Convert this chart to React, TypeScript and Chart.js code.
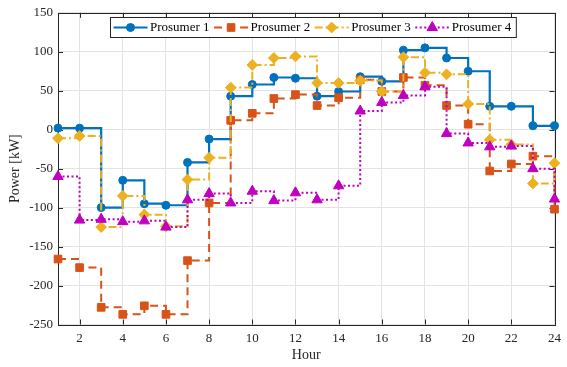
import React, { useEffect, useRef } from 'react';
import { Chart, registerables } from 'chart.js';

Chart.register(...registerables);

const hours = [1, 2, 3, 4, 5, 6, 7, 8, 9, 10, 11, 12, 13, 14, 15, 16, 17, 18, 19, 20, 21, 22, 23, 24];
const prosumer1 = [2, 2, -100, -65, -95, -97, -42, -12, 43, 58, 67, 66, 43, 49, 68, 62, 102, 105, 92, 75, 30, 30, 5, 5];
const prosumer2 = [-166, -177, -228, -237, -226, -237, -168, -94, 12, 21, 40, 45, 31, 41, 64, 49, 67, 57, 31, 7, -53, -44, -34, -102];
const prosumer3 = [-11, -8, -125, -85, -109, -124, -64, -36, 54, 83, 92, 94, 60, 60, 63, 49, 93, 73, 71, 33, -13, -19, -69, -43];
const prosumer4 = [-60, -116, -115, -118, -117, -125, -90, -82, -94, -79, -91, -81, -90, -72, 24, 35, 44, 55, -5, -17, -22, -21, -50, -89];
const seriesNames = ['Prosumer 1', 'Prosumer 2', 'Prosumer 3', 'Prosumer 4'];
const xTicks = [2, 4, 6, 8, 10, 12, 14, 16, 18, 20, 22, 24];
const yTicks = [-250, -200, -150, -100, -50, 0, 50, 100, 150];

const FONT = '"Liberation Serif", "Times New Roman", serif';
const AXIS_COLOR = '#262626';

const styles = [
  { color: '#0072BD', dash: [] as number[], marker: 'circle', radius: 4, width: 2.2 },
  { color: '#D95319', dash: [8, 5], marker: 'rect', radius: 5.4, width: 2 },
  { color: '#EDB120', dash: [8, 3, 2, 3], marker: 'rectRot', radius: 5.4, width: 2 },
  { color: '#C000C0', dash: [2, 2.5], marker: 'triangle', radius: 6, width: 2 },
];

function drawMarker(ctx: CanvasRenderingContext2D, type: string, x: number, y: number, r: number, color: string) {
  ctx.save();
  ctx.setLineDash([]);
  ctx.fillStyle = color;
  ctx.strokeStyle = color;
  ctx.lineWidth = 1;
  ctx.beginPath();
  if (type === 'circle') {
    ctx.arc(x, y, r, 0, Math.PI * 2);
  } else if (type === 'rect') {
    const s = r * Math.SQRT1_2;
    ctx.rect(x - s, y - s, 2 * s, 2 * s);
  } else if (type === 'rectRot') {
    ctx.moveTo(x, y - r);
    ctx.lineTo(x + r, y);
    ctx.lineTo(x, y + r);
    ctx.lineTo(x - r, y);
    ctx.closePath();
  } else {
    ctx.moveTo(x, y - r);
    ctx.lineTo(x + r * Math.sin((2 * Math.PI) / 3), y - r * Math.cos((2 * Math.PI) / 3));
    ctx.lineTo(x + r * Math.sin((4 * Math.PI) / 3), y - r * Math.cos((4 * Math.PI) / 3));
    ctx.closePath();
  }
  ctx.fill();
  ctx.stroke();
  ctx.restore();
}

const framePlugin = {
  id: 'frame',
  beforeDatasetsDraw(chart: any) {
    const { ctx, chartArea } = chart;
    const { left, right, top, bottom } = chartArea;
    const xs = chart.scales.x;
    const ys = chart.scales.y;
    ctx.save();
    ctx.strokeStyle = AXIS_COLOR;
    ctx.lineWidth = 1;
    ctx.setLineDash([]);
    ctx.beginPath();
    const tl = 5;
    xTicks.forEach((v) => {
      const px = Math.round(xs.getPixelForValue(v)) + 0.5;
      ctx.moveTo(px, bottom);
      ctx.lineTo(px, bottom - tl);
      ctx.moveTo(px, top);
      ctx.lineTo(px, top + tl);
    });
    yTicks.forEach((v) => {
      const py = Math.round(ys.getPixelForValue(v)) + 0.5;
      ctx.moveTo(left, py);
      ctx.lineTo(left + tl, py);
      ctx.moveTo(right, py);
      ctx.lineTo(right - tl, py);
    });
    ctx.stroke();
    ctx.strokeRect(Math.round(left) + 0.5, Math.round(top) + 0.5, Math.round(right - left), Math.round(bottom - top));
    ctx.restore();
  },
};

const legendPlugin = {
  id: 'customLegend',
  afterDraw(chart: any) {
    const { ctx } = chart;
    ctx.save();
    ctx.font = '13px ' + FONT;
    const lineLen = 34;
    const gapText = 2.5;
    const gapItem = 4.5;
    const padL = 3;
    const padR = 5;
    const widths = seriesNames.map((n) => ctx.measureText(n).width);
    let total = padL + padR;
    widths.forEach((w, i) => {
      total += lineLen + gapText + w + (i < widths.length - 1 ? gapItem : 0);
    });
    const boxLeft = 110.5;
    const boxTop = 17.5;
    const boxH = 20;
    const cy = boxTop + boxH / 2;
    ctx.fillStyle = '#ffffff';
    ctx.fillRect(boxLeft, boxTop, total, boxH);
    ctx.strokeStyle = AXIS_COLOR;
    ctx.lineWidth = 1;
    ctx.strokeRect(boxLeft, boxTop, total, boxH);
    let x = boxLeft + padL;
    seriesNames.forEach((name, i) => {
      const st = styles[i];
      ctx.save();
      ctx.strokeStyle = st.color;
      ctx.lineWidth = st.width;
      ctx.setLineDash(st.dash);
      ctx.beginPath();
      ctx.moveTo(x, cy);
      ctx.lineTo(x + lineLen, cy);
      ctx.stroke();
      ctx.restore();
      drawMarker(ctx, st.marker, x + lineLen / 2, cy, st.radius, st.color);
      ctx.fillStyle = '#000000';
      ctx.textBaseline = 'middle';
      ctx.textAlign = 'left';
      ctx.fillText(name, x + lineLen + gapText, cy + 0.5);
      x += lineLen + gapText + widths[i] + gapItem;
    });
    ctx.restore();
  },
};

export default function App() {
  const canvasRef = useRef<HTMLCanvasElement | null>(null);

  useEffect(() => {
    document.body.style.margin = '0';
    const canvas = canvasRef.current;
    if (!canvas) return;
    const all = [prosumer1, prosumer2, prosumer3, prosumer4];
    const datasets = all.map((vals, i) => {
      const st = styles[i];
      return {
        label: seriesNames[i],
        data: hours.map((h, j) => ({ x: h, y: vals[j] })),
        stepped: true,
        borderColor: st.color,
        backgroundColor: st.color,
        borderWidth: st.width,
        borderDash: st.dash,
        pointStyle: st.marker,
        pointRadius: st.radius,
        pointBackgroundColor: st.color,
        pointBorderColor: st.color,
        pointBorderWidth: 1,
        fill: false,
        clip: false,
        order: 4 - i,
      };
    });
    const chart = new Chart(canvas, {
      type: 'line',
      data: { datasets },
      options: {
        animation: false,
        responsive: false,
        devicePixelRatio: 1,
        layout: { padding: { top: 9, right: 5, left: 0, bottom: 0 } },
        plugins: {
          legend: { display: false },
          tooltip: { enabled: false },
        },
        scales: {
          x: {
            type: 'linear',
            min: 1,
            max: 24,
            afterBuildTicks: (scale: any) => {
              scale.ticks = xTicks.map((v) => ({ value: v }));
            },
            afterFit: (scale: any) => {
              scale.height = 42.5;
            },
            grid: { color: '#e3e3e3', lineWidth: 1, drawTicks: false },
            border: { display: false },
            ticks: {
              autoSkip: false,
              maxRotation: 0,
              padding: 6,
              color: AXIS_COLOR,
              font: { family: FONT, size: 13 },
              callback: (v: any) => String(v),
            },
            title: {
              display: true,
              text: 'Hour',
              color: AXIS_COLOR,
              font: { family: FONT, size: 14 },
              padding: { top: 0, bottom: 3.5 },
            },
          },
          y: {
            type: 'linear',
            min: -250,
            max: 150,
            afterBuildTicks: (scale: any) => {
              scale.ticks = yTicks.map((v) => ({ value: v }));
            },
            afterFit: (scale: any) => {
              scale.width = 58;
            },
            grid: { color: '#e3e3e3', lineWidth: 1, drawTicks: false },
            border: { display: false },
            ticks: {
              padding: 5,
              color: AXIS_COLOR,
              font: { family: FONT, size: 13 },
              callback: (v: any) => String(v),
            },
            title: {
              display: true,
              text: 'Power [kW]',
              color: AXIS_COLOR,
              font: { family: FONT, size: 14 },
              padding: { top: 7, bottom: 0 },
            },
          },
        },
      },
      plugins: [framePlugin, legendPlugin],
    } as any);
    return () => {
      chart.destroy();
    };
  }, []);

  return (
    <div style={{ width: 567, height: 367 }}>
      <canvas ref={canvasRef} width={567} height={367} style={{ display: 'block' }} />
    </div>
  );
}
